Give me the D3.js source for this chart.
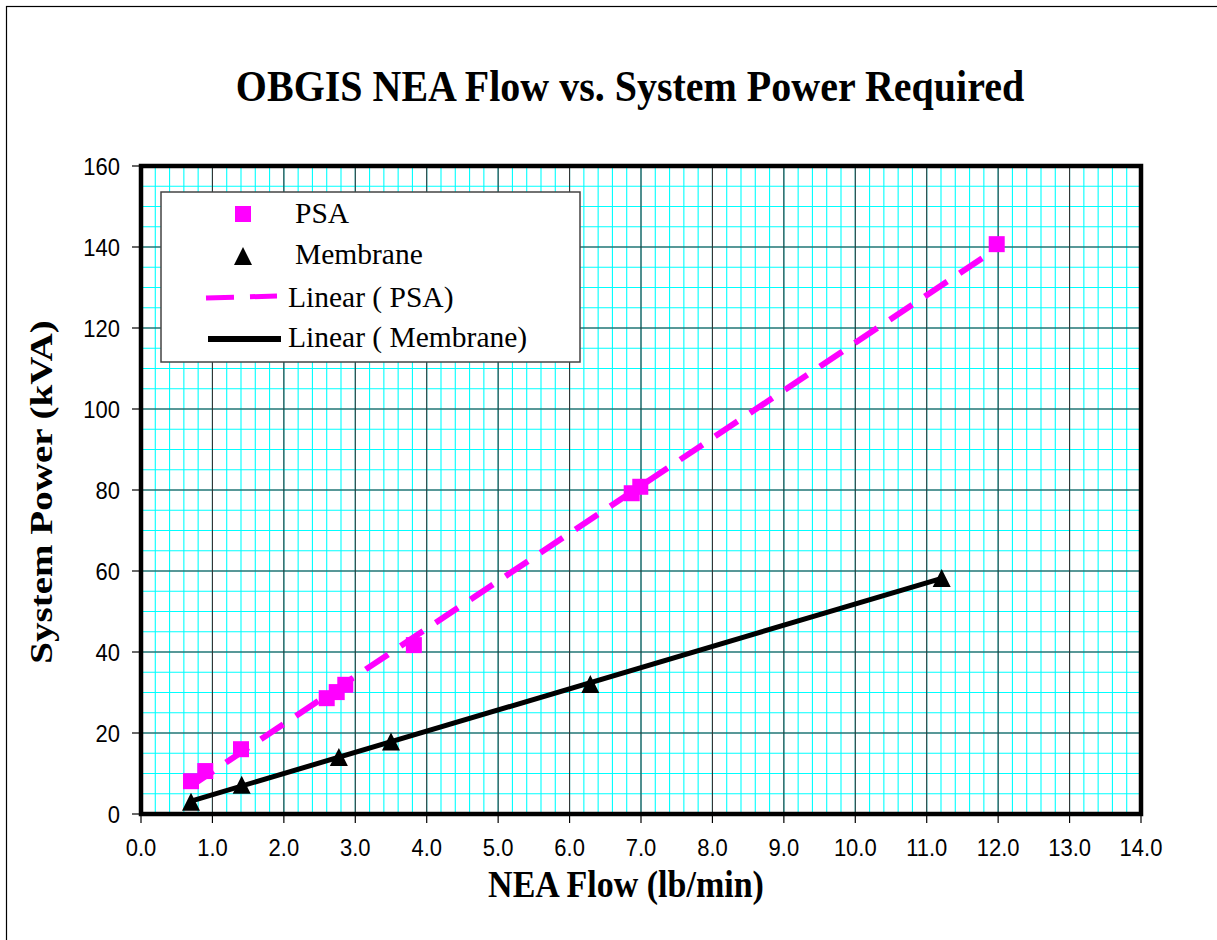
<!DOCTYPE html>
<html>
<head>
<meta charset="utf-8">
<script src="https://cdn.jsdelivr.net/npm/d3@7"></script>
<style>
  body { margin: 0; background: #fff; }
</style>
</head>
<body>
<div id="chart"></div>
<script>
// PSA measurements: NEA flow (lb/min) vs system power (kVA)
const psaFlow  = [0.7, 0.9, 1.4, 2.6, 2.74, 2.86, 3.82, 6.87, 6.99, 11.98];
const psaPower = [8.1, 10.6, 16.0, 28.6, 30.1, 31.9, 41.7, 79.2, 80.8, 140.7];
// Membrane measurements
const memFlow  = [0.7, 1.41, 2.77, 3.5, 6.29, 11.21];
const memPower = [3.0, 7.2, 14.1, 17.9, 32.1, 58.3];

const xTickValues = [0, 1, 2, 3, 4, 5, 6, 7, 8, 9, 10, 11, 12, 13, 14];
const yTickValues = [0, 20, 40, 60, 80, 100, 120, 140, 160];
const legendLabels = ["PSA", "Membrane", "Linear ( PSA)", "Linear ( Membrane)"];

const width = 1217, height = 940;
const plot = {left: 141, right: 1141, top: 166, bottom: 814};

const svg = d3.select("#chart").append("svg")
  .attr("width", width)
  .attr("height", height);

// outer chart frame (only left/top edges are visible in the picture)
svg.append("rect")
  .attr("x", 6.5).attr("y", 6.5)
  .attr("width", width + 20).attr("height", height + 20)
  .attr("fill", "#fff").attr("stroke", "#000").attr("stroke-width", 1.2);

const x = d3.scaleLinear().domain([0, 14]).range([plot.left, plot.right]);
const y = d3.scaleLinear().domain([0, 160]).range([plot.bottom, plot.top]);

// stretched text helper (the original fonts are rendered a bit taller)
function addText(parent, px, py, str, sy) {
  return parent.append("text")
    .attr("transform", `translate(${px},${py}) scale(1,${sy})`)
    .text(str);
}

//minor grid (cyan)
const grid = svg.append("g");
grid.selectAll(".vminor")
  .data(d3.range(0, 14.001, 0.2))
  .enter().append("line")
    .attr("x1", d => x(d)).attr("x2", d => x(d))
    .attr("y1", plot.top).attr("y2", plot.bottom)
    .attr("stroke", "#00ffff").attr("stroke-width", 1.1);
grid.selectAll(".hminor")
  .data(d3.range(0, 160.001, 5))
  .enter().append("line")
    .attr("y1", d => y(d)).attr("y2", d => y(d))
    .attr("x1", plot.left).attr("x2", plot.right)
    .attr("stroke", "#00ffff").attr("stroke-width", 1.1);

//major grid
grid.selectAll(".vmajor")
  .data(xTickValues)
  .enter().append("line")
    .attr("x1", d => x(d)).attr("x2", d => x(d))
    .attr("y1", plot.top).attr("y2", plot.bottom)
    .attr("stroke", "#333").attr("stroke-width", 1.1);
grid.selectAll(".hmajor")
  .data(yTickValues)
  .enter().append("line")
    .attr("y1", d => y(d)).attr("y2", d => y(d))
    .attr("x1", plot.left).attr("x2", plot.right)
    .attr("stroke", "#333").attr("stroke-width", 1.1);

// least squares trend line
function trend(xs, ys) {
  const mx = d3.mean(xs), my = d3.mean(ys);
  const slope = d3.sum(xs, (v, i) => (v - mx) * (ys[i] - my)) / d3.sum(xs, v => (v - mx) ** 2);
  const b = my - slope * mx;
  const x0 = d3.min(xs), x1 = d3.max(xs);
  return [[x0, b + slope * x0], [x1, b + slope * x1]];
}
const line = d3.line().x(d => x(d[0])).y(d => y(d[1]));

svg.append("path")
  .attr("d", line(trend(psaFlow, psaPower)))
  .attr("fill", "none").attr("stroke", "#ff00ff")
  .attr("stroke-width", 6).attr("stroke-dasharray", "27,15");

svg.append("path")
  .attr("d", line(trend(memFlow, memPower)))
  .attr("fill", "none").attr("stroke", "#000")
  .attr("stroke-width", 5);

//markers
const sq = 16;
svg.selectAll(".psa")
  .data(psaFlow.map((v, i) => [v, psaPower[i]]))
  .enter().append("rect")
    .attr("x", d => x(d[0]) - sq / 2)
    .attr("y", d => y(d[1]) - sq / 2)
    .attr("width", sq).attr("height", sq)
    .attr("fill", "#ff00ff");

// excel-style triangle, a little taller than equilateral
const triType = {
  draw(ctx, size) {
    const w = Math.sqrt(size), h = w;
    ctx.moveTo(0, -h / 2);
    ctx.lineTo(w / 2, h / 2);
    ctx.lineTo(-w / 2, h / 2);
    ctx.closePath();
  }
};
const tri = d3.symbol(triType, 18 * 18);
svg.selectAll(".mem")
  .data(memFlow.map((v, i) => [v, memPower[i]]))
  .enter().append("path")
    .attr("d", tri)
    .attr("transform", d => `translate(${x(d[0])},${y(d[1])})`)
    .attr("fill", "#000");

// plot border
svg.append("rect")
  .attr("x", plot.left).attr("y", plot.top)
  .attr("width", plot.right - plot.left).attr("height", plot.bottom - plot.top)
  .attr("fill", "none").attr("stroke", "#000").attr("stroke-width", 4.5);

//ticks + labels
const axes = svg.append("g")
  .style("font-family", "'Liberation Sans', Arial, sans-serif")
  .style("font-size", "22px")
  .attr("fill", "#000");

axes.selectAll(".xt")
  .data(xTickValues)
  .enter().append("line")
    .attr("x1", d => x(d)).attr("x2", d => x(d))
    .attr("y1", plot.bottom).attr("y2", plot.bottom + 9)
    .attr("stroke", "#000").attr("stroke-width", 1.2);
axes.selectAll(".yt")
  .data(yTickValues)
  .enter().append("line")
    .attr("y1", d => y(d)).attr("y2", d => y(d))
    .attr("x1", plot.left - 9).attr("x2", plot.left)
    .attr("stroke", "#000").attr("stroke-width", 1.2);

xTickValues.forEach(v => {
  addText(axes, x(v), 856, d3.format(".1f")(v), 1.12).attr("text-anchor", "middle");
});
yTickValues.forEach(v => {
  addText(axes, 120, y(v) + 9, String(v), 1.12).attr("text-anchor", "end");
});

// titles
const titles = svg.append("g")
  .style("font-family", "'Liberation Serif', 'Times New Roman', serif")
  .style("font-weight", "bold")
  .attr("fill", "#000");

addText(titles, 630, 101, "OBGIS NEA Flow vs. System Power Required", 1.12)
  .style("font-size", "40px").attr("text-anchor", "middle");

addText(titles, 626, 897, "NEA Flow (lb/min)", 1.1)
  .style("font-size", "34px").attr("text-anchor", "middle");

titles.append("text")
  .attr("transform", "translate(52,492) scale(1,1.22) rotate(-90)")
  .style("font-size", "32px")
  .attr("text-anchor", "middle")
  .text("System Power (kVA)");

//legend
const legend = svg.append("g")
  .style("font-family", "'Liberation Serif', 'Times New Roman', serif")
  .style("font-size", "29.5px");

legend.append("rect")
  .attr("x", 161).attr("y", 192)
  .attr("width", 419).attr("height", 170)
  .attr("fill", "#fff").attr("stroke", "#444").attr("stroke-width", 1.5);

legend.append("rect")
  .attr("x", 243 - 8).attr("y", 214 - 8)
  .attr("width", 16).attr("height", 16)
  .attr("fill", "#ff00ff");
legend.append("path")
  .attr("d", tri)
  .attr("transform", "translate(243,256)")
  .attr("fill", "#000");
legend.append("line")
  .attr("x1", 206).attr("x2", 277).attr("y1", 298).attr("y2", 296)
  .attr("stroke", "#ff00ff").attr("stroke-width", 5)
  .attr("stroke-dasharray", "28,16");
legend.append("line")
  .attr("x1", 208).attr("x2", 281).attr("y1", 339).attr("y2", 339)
  .attr("stroke", "#000").attr("stroke-width", 6);

const legendPos = [[295, 223], [295, 264], [288, 307], [288, 347]];
legendLabels.forEach((t, i) => {
  legend.append("text")
    .attr("x", legendPos[i][0]).attr("y", legendPos[i][1])
    .text(t);
});
</script>
</body>
</html>
